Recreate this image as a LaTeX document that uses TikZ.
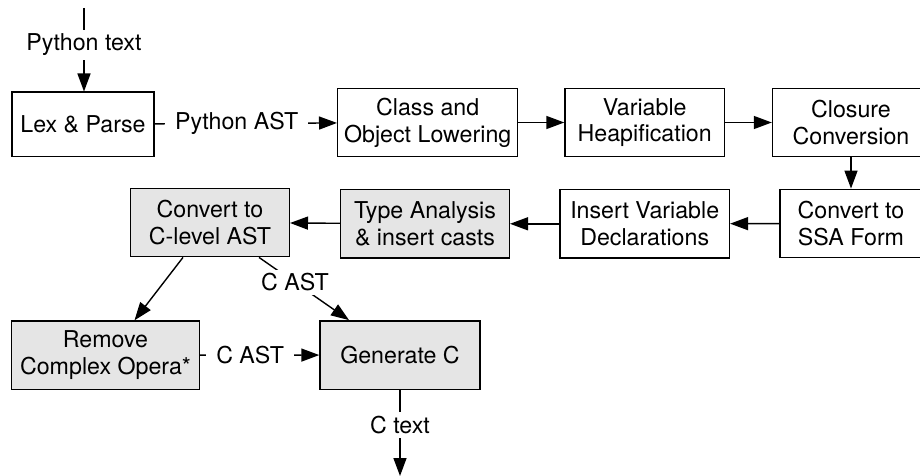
\documentclass[tikz,border=0pt]{standalone}
\usepackage{fontspec}
\setmainfont{TeX Gyre Heros}
\usetikzlibrary{arrows.meta}
\definecolor{passgray}{gray}{0.9}

\begin{document}
\begin{tikzpicture}[x=0.5pt,y=-0.5pt,line width=0.7pt,
    font=\fontsize{11.6}{13.4}\selectfont,
    >={Triangle[length=9pt,width=6.5pt]},
    pass/.style={draw,align=center,inner sep=2pt,minimum height=34.2pt},
    cpass/.style={pass,fill=passgray},
    lbl/.style={fill=white,inner xsep=5pt,inner ysep=2pt}]
    \useasboundingbox (0,0) rectangle (920,476);
    \clip (0,0) rectangle (920,476);
    % top row
    \node[pass,minimum width=71pt,minimum height=32pt] (lex) at (83,124.2) {Lex \& Parse};
    \node[pass,minimum width=90pt] (cls) at (427.7,122.5) {Class and\\Object Lowering};
    \node[pass,minimum width=79.7pt] (heap) at (644.7,122.5) {Variable\\Heapification};
    \node[pass,minimum width=78.5pt] (clos) at (851,122.5) {Closure\\Conversion};
    % second row, right to left
    \node[pass,minimum width=71pt] (ssa) at (851,223.5) {Convert to\\SSA Form};
    \node[pass,minimum width=84.7pt] (ins) at (644.7,223.8) {Insert Variable\\Declarations};
    \node[cpass,minimum width=84.3pt] (typ) at (425,223.8) {Type Analysis\\\& insert casts};
    \node[cpass,minimum width=79.3pt] (clev) at (210,222.5) {Convert to\\C-level AST};
    % C back end
    \node[cpass,minimum width=93.8pt] (rem) at (105.5,355.2) {Remove\\Complex Opera*};
    \node[cpass,minimum width=80pt] (gen) at (400,355) {Generate C};
    \coordinate (pyin) at (84,8);
    \coordinate (cout) at (400,476);

    \draw[->] (pyin) -- (pyin |- lex.north) node[lbl,pos=0.44] {Python text};
    \draw[->] (lex) -- (cls) node[lbl,pos=0.45] {Python AST};
    \draw[->] (cls) -- (heap);
    \draw[->] (heap) -- (clos);
    \draw[->] (clos) -- (ssa);
    \draw[->] (ssa) -- (ins);
    \draw[->] (ins) -- (typ);
    \draw[->] (typ) -- (clev);
    \draw[->] ([xshift=-13.5pt]clev.south) -- ([xshift=14.5pt]rem.north);
    \draw[->] ([xshift=24.5pt]clev.south) -- ([xshift=-25.5pt]gen.north) node[lbl,pos=0.4] {C AST};
    \draw[->] (rem) -- (gen) node[lbl,pos=0.42] {C AST};
    \draw[->] (gen) -- (cout) node[lbl,pos=0.41] {C text};
\end{tikzpicture}
\end{document}
